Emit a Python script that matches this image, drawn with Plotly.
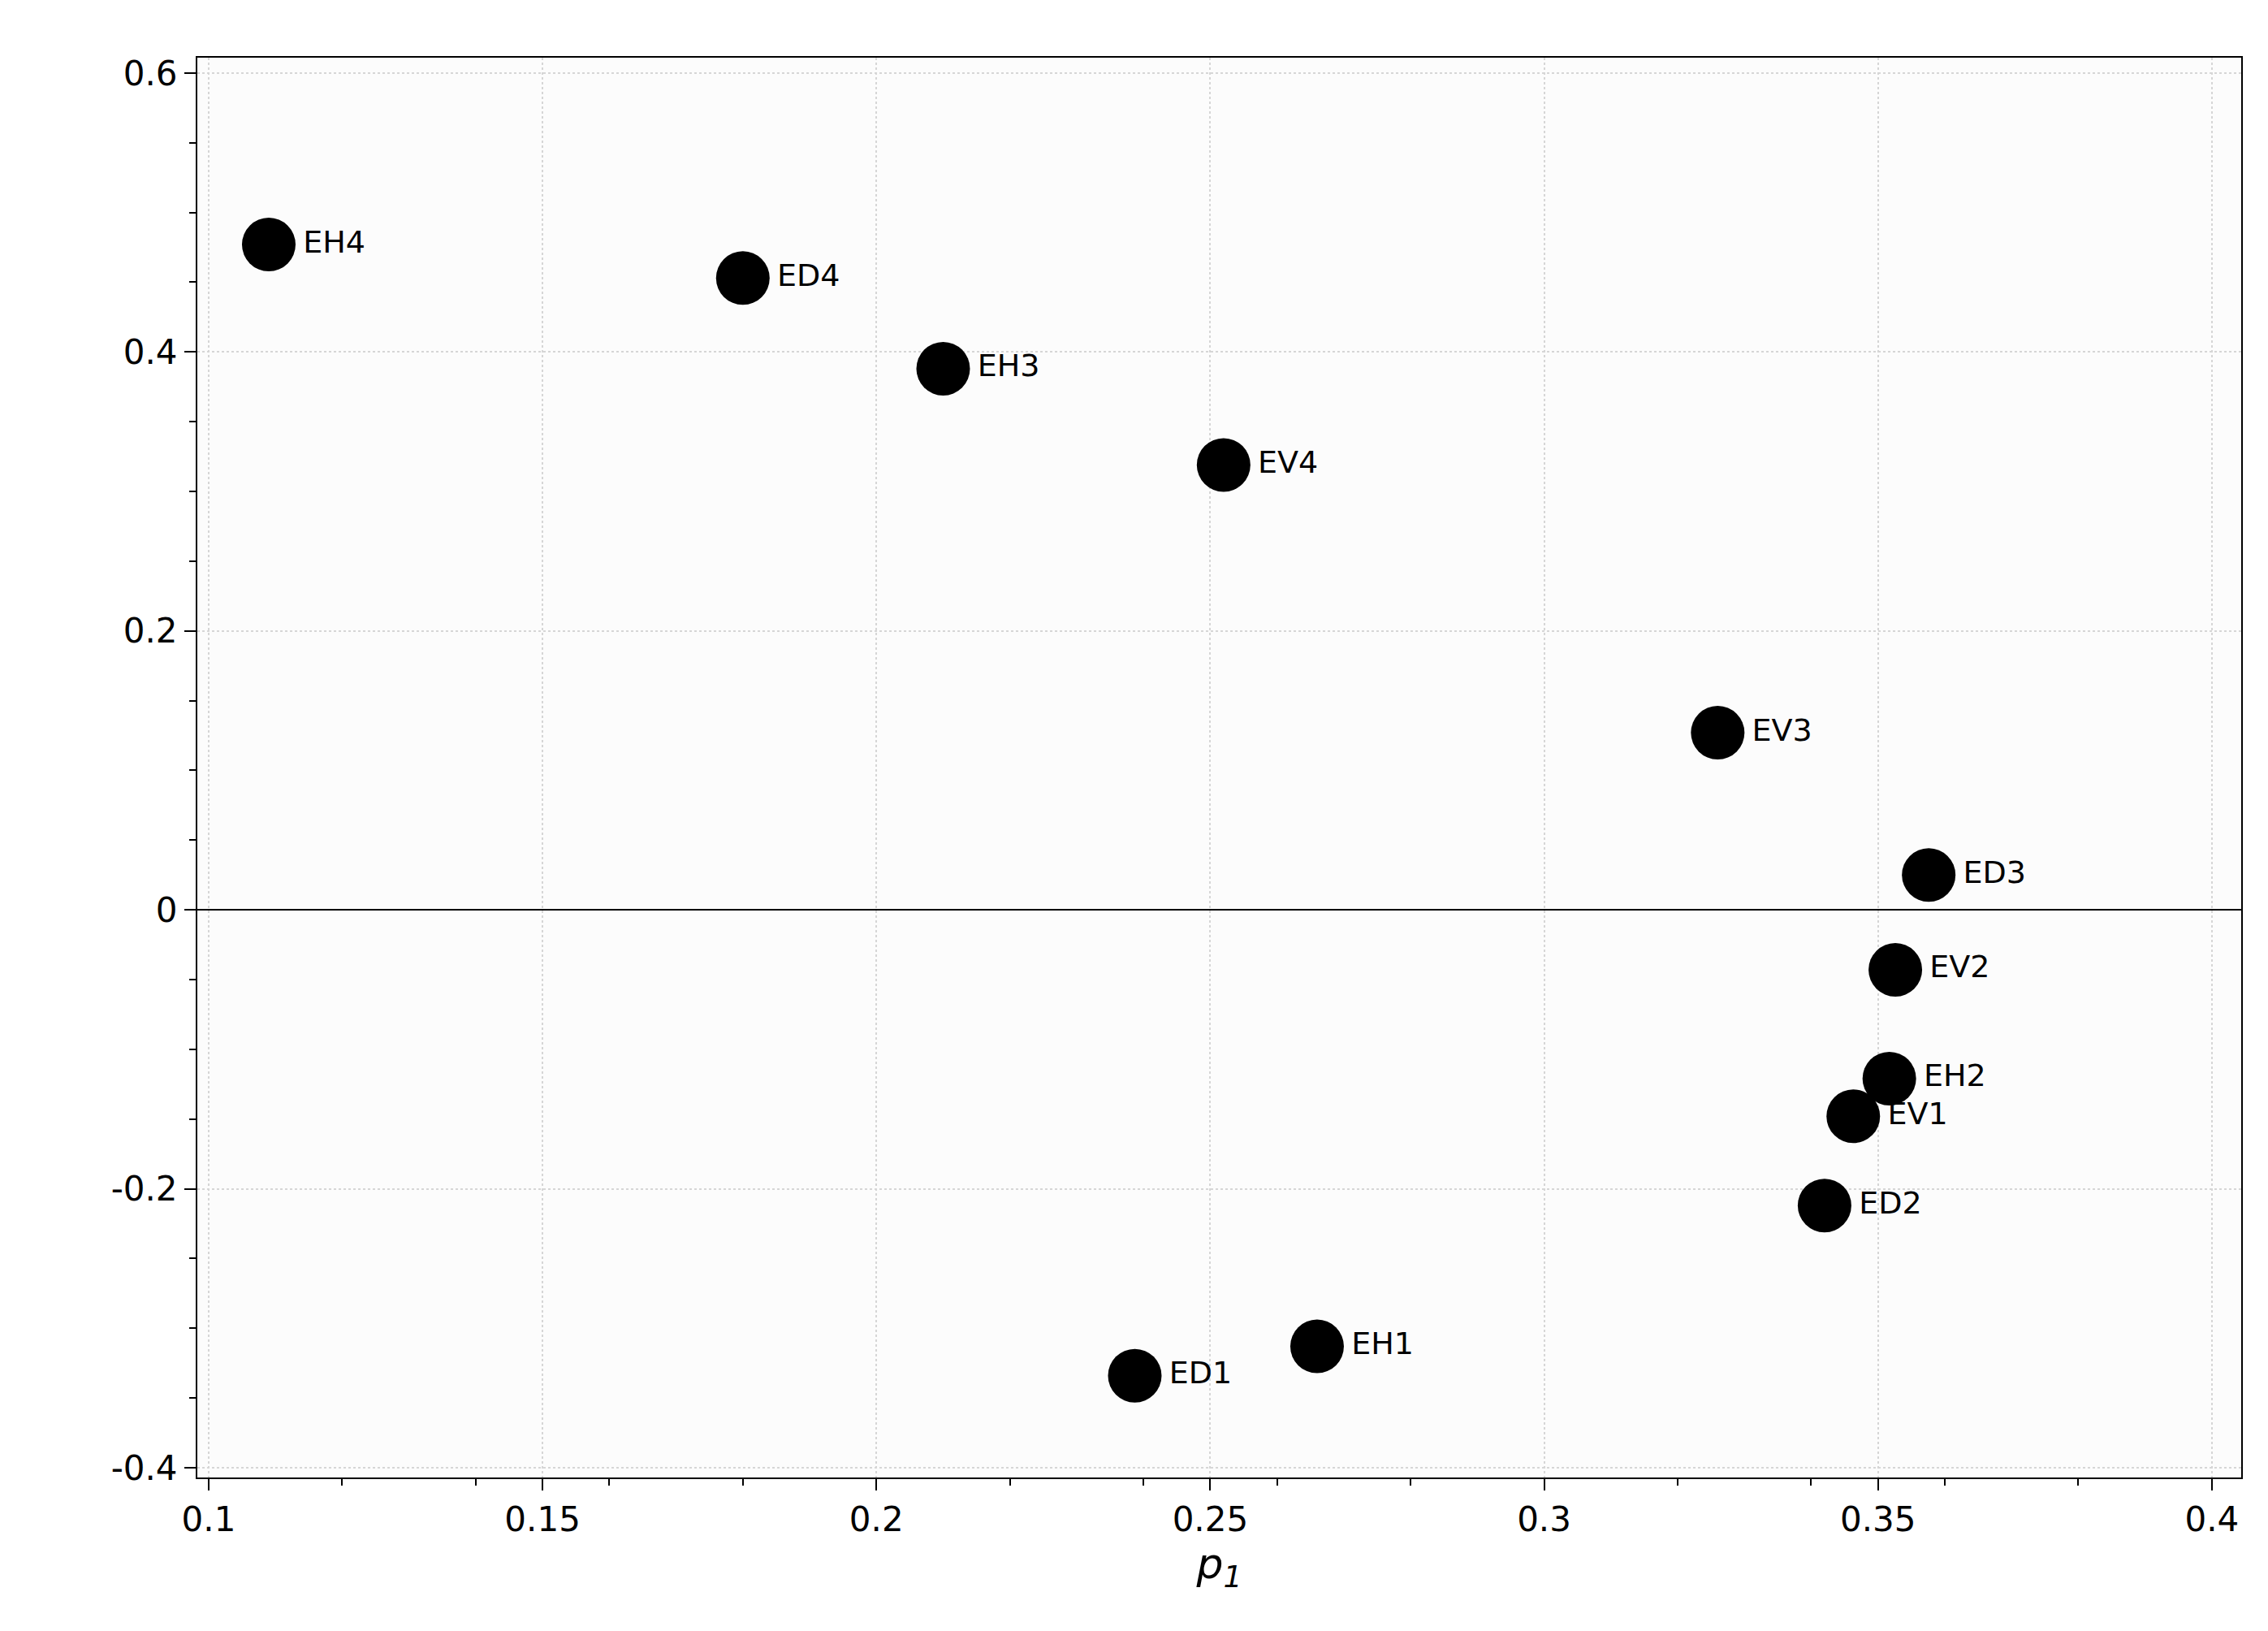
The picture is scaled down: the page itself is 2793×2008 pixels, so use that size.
import plotly.graph_objects as go

labels = ["EH4","ED4","EH3","EV4","EV3","ED3","EV2","EH2","EV1","ED2","EH1","ED1"]
p1 = [0.109,0.180,0.210,0.252,0.326,0.3576,0.3526,0.3517,0.3463,0.342,0.266,0.2387]
p2 = [0.477,0.453,0.388,0.319,0.127,0.025,-0.043,-0.121,-0.148,-0.212,-0.313,-0.334]
xticks = [0.1,0.15,0.2,0.25,0.3,0.35,0.4]
yticks = [-0.4,-0.2,0,0.2,0.4,0.6]

fig = go.Figure(go.Scatter(
    x=p1, y=p2, mode="markers+text", text=labels, textposition="middle right",
    marker=dict(size=66, color="black"),
    textfont=dict(family="DejaVu Sans", size=38, color="black"), cliponaxis=False))

ax = dict(showline=True, linecolor="black", linewidth=2, mirror=True,
          ticks="outside", ticklen=14, tickwidth=2, tickcolor="black",
          minor=dict(ticks="outside", ticklen=8, tickcolor="black", nticks=5, showgrid=False),
          gridcolor="#d6d6d6", griddash="dot", gridwidth=2,
          tickfont=dict(family="DejaVu Sans", size=42, color="black"), zeroline=False)
fig.update_xaxes(**ax, range=[0.0983,0.4044], tickvals=xticks,
                 ticktext=[str(v) for v in xticks],
                 title=dict(text="<i>p<sub>1</sub></i>", font=dict(family="DejaVu Sans", size=52, color="black"), standoff=5))
fig.update_yaxes(**ax, range=[-0.407,0.611], tickvals=yticks,
                 ticktext=[str(v) for v in yticks])
fig.update_yaxes(zeroline=True, zerolinecolor="black", zerolinewidth=2)
fig.add_annotation(text="<i>p<sub>2</sub></i>", xref="paper", yref="paper", x=-0.128, y=0.5,
                   showarrow=False, xanchor="center", yanchor="middle",
                   font=dict(family="DejaVu Sans", size=52, color="black"))
fig.update_layout(width=2793, height=2008, showlegend=False,
                  paper_bgcolor="white", plot_bgcolor="#fcfcfc",
                  margin=dict(l=235, r=41, t=63, b=197))
fig.write_html("out.html")
